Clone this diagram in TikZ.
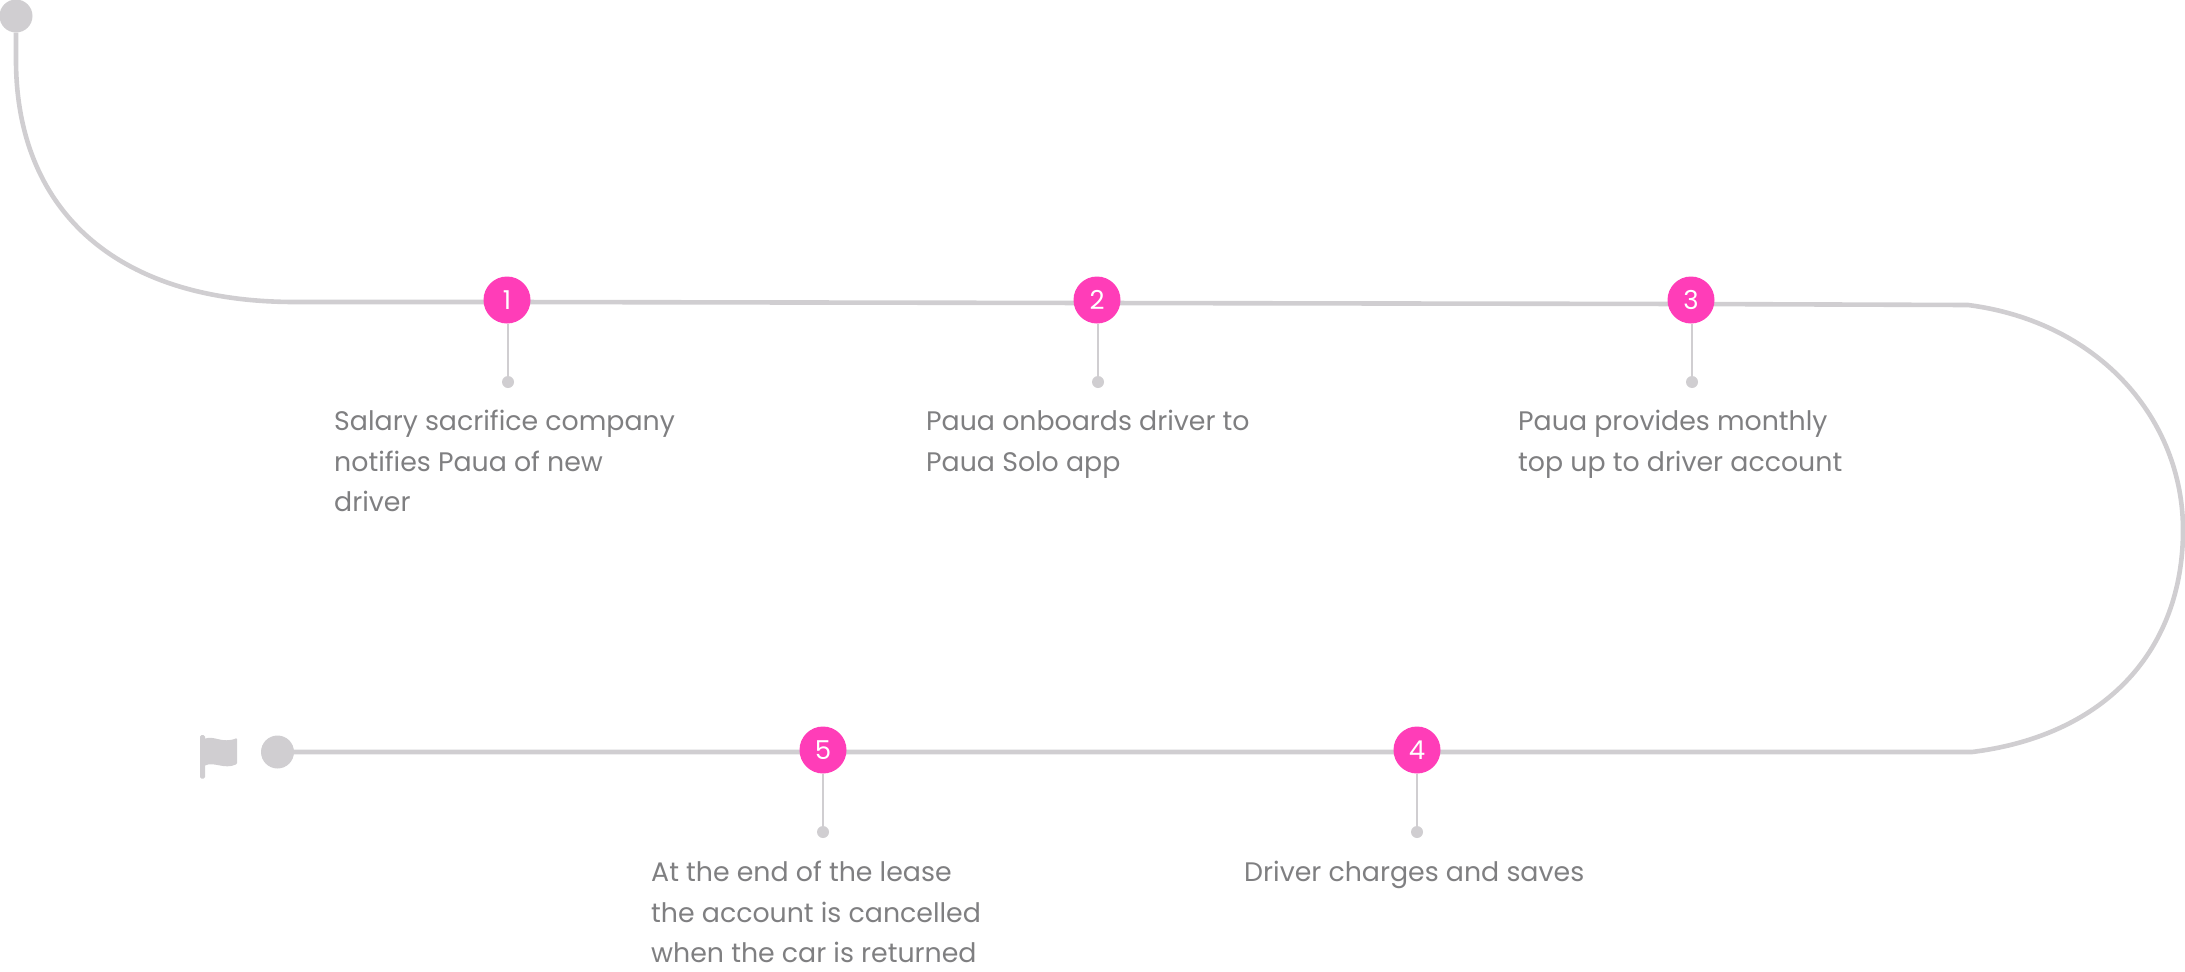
\documentclass[tikz,border=0pt]{standalone}
\usepackage{fontspec}
\setmainfont{Poppins}
\usetikzlibrary{backgrounds}
\definecolor{trk}{HTML}{D0CED1}
\definecolor{pnk}{HTML}{FF3DB8}
\definecolor{txt}{HTML}{7F7F81}
\tikzset{
  track/.style={draw=trk,line width=4.6pt},
  stem/.style={draw=trk,line width=2.8pt},
  marker/.style={circle,fill=pnk,minimum size=47pt,inner sep=0pt,text=white,font=\fontsize{26}{26}\selectfont},
  endpt/.style={circle,fill=trk,minimum size=33pt,inner sep=0pt},
  tip/.style={circle,fill=trk,minimum size=12pt,inner sep=0pt},
  lbl/.style={anchor=base west,inner sep=0pt,text=txt,font=\fontsize{26.8}{26.8}\selectfont}
}
\begin{document}
\begin{tikzpicture}[x=1pt,y=-1pt]
\useasboundingbox (0,0) rectangle (2185,972);
\node[endpt] (start) at (16,16) {};
\node[endpt] (finish) at (277.5,752) {};
\node[marker] (m1) at (507,300) {1};
\node[marker] (m2) at (1097,300) {2};
\node[marker] (m3) at (1691,300) {3};
\node[marker] (m4) at (1417,750) {4};
\node[marker] (m5) at (823,750) {5};
\node[tip] (t1) at (508,382) {};
\node[tip] (t2) at (1098,382) {};
\node[tip] (t3) at (1692,382) {};
\node[tip] (t4) at (1417,832) {};
\node[tip] (t5) at (823,832) {};
\coordinate (j1) at (507,302);
\coordinate (j2) at (1097,303);
\coordinate (j3) at (1691,304);
\coordinate (j4) at (1417,752);
\coordinate (j5) at (823,752);
\coordinate (k1) at (295,302);
\coordinate (k2) at (1968,305);
\coordinate (k3) at (2183,530);
\coordinate (k4) at (1972,752);
\begin{scope}[on background layer]
\draw[track] (start.south) -- (16,60) .. controls (16,205) and (110,302) .. (k1) -- (j1) -- (j2) -- (j3) -- (k2)
  .. controls (2100,322) and (2183,420) .. (k3) .. controls (2183,648) and (2108,735) .. (k4)
  -- (j4) -- (j5) -- (finish.east);
\draw[stem] (m1.south) ++(1,0) -- (t1);
\draw[stem] (m2.south) ++(1,0) -- (t2);
\draw[stem] (m3.south) ++(1,0) -- (t3);
\draw[stem] (m4) -- (t4);
\draw[stem] (m5) -- (t5);
\end{scope}
\fill[trk,rounded corners=1.5pt] (200,735) -- (205,735) -- (205,778.5) -- (200,778.5) -- cycle;
\fill[trk,rounded corners=1pt] (204,739) .. controls (214,735) and (222,744) .. (237,738) -- (237,764)
  .. controls (224,770) and (214,761) .. (204,766) -- cycle;
\node[lbl] (a1) at (334,430) {Salary sacrifice company};
\node[lbl] (a2) at (334,471) {notifies Paua of new};
\node[lbl] (a3) at (334,511) {driver};
\node[lbl] (b1) at (926,430) {Paua onboards driver to};
\node[lbl] (b2) at (926,471) {Paua Solo app};
\node[lbl] (c1) at (1518,430) {Paua provides monthly};
\node[lbl] (c2) at (1518,471) {top up to driver account};
\node[lbl] (d1) at (1244,881) {Driver charges and saves};
\node[lbl] (e1) at (651,881) {At the end of the lease};
\node[lbl] (e2) at (651,922) {the account is cancelled};
\node[lbl] (e3) at (651,962) {when the car is returned};
\end{tikzpicture}
\end{document}
